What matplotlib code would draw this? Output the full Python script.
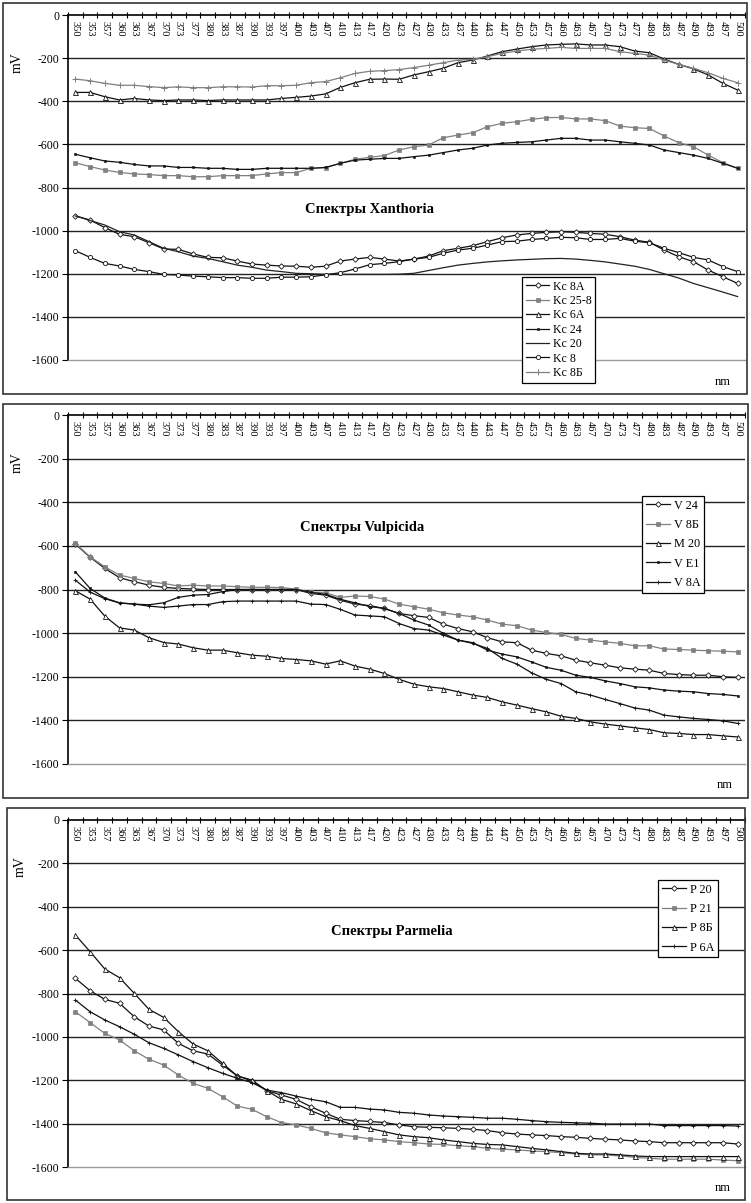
"""Three stacked panels: lichen reflectance spectra (Xanthoria, Vulpicida, Parmelia)."""

import matplotlib
matplotlib.use("Agg")
import matplotlib.pyplot as plt
from matplotlib.patches import Rectangle
import numpy as np

plt.rcParams["font.family"] = ["Liberation Serif", "DejaVu Serif"]

W, H = 751, 1203

WAVELENGTHS = ["350", "353", "357", "360", "363", "367", "370", "373", "377", "380",
               "383", "387", "390", "393", "397", "400", "403", "407", "410", "413",
               "417", "420", "423", "427", "430", "433", "437", "440", "443", "447",
               "450", "453", "457", "460", "463", "467", "470", "473", "477", "480",
               "483", "487", "490", "493", "497", "500"]

# --- Xanthoria ---
kc_8a = [-931, -951, -986, -1017, -1028, -1056, -1085, -1087, -1108, -1124,
         -1126, -1141, -1155, -1160, -1164, -1165, -1170, -1165, -1141, -1132,
         -1124, -1132, -1141, -1132, -1118, -1093, -1082, -1070, -1051, -1033,
         -1020, -1013, -1008, -1005, -1008, -1013, -1017, -1028, -1044, -1054,
         -1090, -1121, -1144, -1183, -1214, -1245]
kc_25_8 = [-685, -703, -719, -730, -737, -740, -745, -745, -750, -750,
           -745, -745, -745, -737, -731, -731, -711, -708, -688, -669,
           -660, -652, -626, -611, -603, -569, -557, -546, -518, -502,
           -495, -484, -476, -475, -482, -482, -490, -515, -523, -526,
           -561, -592, -611, -650, -685, -711]
kc_6a = [-359, -359, -379, -394, -387, -394, -397, -394, -394, -397,
         -394, -394, -394, -394, -387, -382, -376, -366, -336, -314,
         -298, -297, -298, -278, -263, -247, -221, -209, -190, -170,
         -158, -147, -139, -136, -134, -139, -139, -147, -167, -175,
         -204, -229, -250, -278, -317, -348]
kc_24 = [-646, -662, -677, -683, -693, -700, -700, -707, -707, -711,
         -711, -716, -716, -711, -711, -711, -711, -707, -688, -673,
         -669, -665, -665, -657, -650, -638, -626, -618, -603, -595,
         -591, -588, -580, -572, -572, -580, -580, -588, -595, -603,
         -626, -638, -650, -665, -688, -711]
kc_20 = [-932, -953, -974, -1005, -1020, -1051, -1082, -1098, -1118, -1129,
         -1144, -1160, -1170, -1183, -1190, -1198, -1200, -1203, -1203, -1203,
         -1203, -1203, -1202, -1198, -1185, -1172, -1160, -1152, -1145, -1140,
         -1136, -1133, -1130, -1129, -1132, -1138, -1145, -1155, -1165, -1180,
         -1200, -1220, -1245, -1265, -1285, -1306]
kc_8 = [-1093, -1124, -1152, -1164, -1180, -1190, -1203, -1206, -1211, -1214,
        -1218, -1218, -1221, -1221, -1216, -1216, -1214, -1205, -1195, -1178,
        -1158, -1152, -1144, -1132, -1124, -1105, -1090, -1082, -1067, -1051,
        -1049, -1041, -1036, -1031, -1033, -1041, -1041, -1036, -1049, -1056,
        -1082, -1102, -1124, -1136, -1167, -1190]
kc_8b = [-297, -305, -317, -326, -326, -332, -337, -333, -337, -337,
         -333, -333, -334, -328, -328, -326, -314, -309, -291, -271,
         -261, -258, -253, -244, -233, -221, -209, -206, -193, -178,
         -167, -159, -155, -150, -155, -155, -155, -170, -178, -186,
         -209, -229, -247, -268, -294, -314]

# --- Vulpicida ---
v_24 = [-592, -652, -703, -746, -764, -780, -790, -795, -798, -800,
        -800, -800, -800, -800, -800, -800, -818, -826, -849, -867,
        -874, -887, -910, -920, -928, -959, -979, -994, -1021, -1040,
        -1044, -1078, -1093, -1104, -1124, -1136, -1147, -1159, -1165, -1170,
        -1185, -1190, -1193, -1193, -1200, -1203]
v_8b = [-589, -650, -696, -734, -749, -765, -772, -784, -780, -784,
        -784, -787, -790, -790, -791, -798, -813, -815, -836, -830,
        -832, -844, -867, -879, -890, -907, -917, -925, -940, -959,
        -966, -986, -997, -1006, -1024, -1032, -1040, -1047, -1058, -1058,
        -1073, -1075, -1078, -1081, -1083, -1086]
m_20 = [-806, -844, -922, -976, -986, -1021, -1043, -1050, -1067, -1078,
        -1078, -1090, -1101, -1106, -1116, -1121, -1127, -1142, -1127, -1151,
        -1165, -1185, -1212, -1234, -1246, -1254, -1269, -1284, -1295, -1315,
        -1330, -1346, -1361, -1381, -1391, -1407, -1417, -1425, -1434, -1442,
        -1457, -1460, -1465, -1465, -1471, -1476]
v_e1 = [-719, -795, -839, -861, -867, -870, -861, -836, -826, -823,
        -810, -800, -800, -800, -800, -800, -813, -822, -845, -861,
        -878, -887, -910, -940, -963, -1001, -1032, -1044, -1078, -1096,
        -1109, -1132, -1157, -1170, -1193, -1203, -1219, -1231, -1246, -1251,
        -1261, -1266, -1269, -1277, -1281, -1288]
v_8a = [-757, -812, -842, -862, -867, -876, -882, -876, -869, -869,
        -856, -853, -853, -853, -853, -853, -867, -869, -891, -917,
        -921, -925, -956, -979, -986, -1009, -1032, -1047, -1070, -1116,
        -1142, -1182, -1212, -1231, -1269, -1284, -1304, -1323, -1343, -1353,
        -1376, -1384, -1391, -1396, -1402, -1414]

# --- Parmelia ---
p_20 = [-730, -787, -827, -845, -907, -950, -968, -1030, -1064, -1079,
        -1130, -1180, -1203, -1248, -1268, -1288, -1322, -1352, -1380, -1386,
        -1390, -1395, -1406, -1414, -1417, -1419, -1422, -1426, -1432, -1442,
        -1448, -1452, -1455, -1460, -1463, -1468, -1472, -1475, -1480, -1483,
        -1488, -1488, -1488, -1488, -1488, -1494]
p_21 = [-884, -934, -984, -1014, -1064, -1103, -1130, -1176, -1214, -1237,
        -1276, -1319, -1334, -1368, -1395, -1406, -1422, -1442, -1452, -1460,
        -1470, -1475, -1483, -1488, -1494, -1496, -1502, -1506, -1514, -1518,
        -1521, -1526, -1529, -1534, -1540, -1544, -1544, -1549, -1555, -1560,
        -1564, -1564, -1564, -1564, -1568, -1571]
p_8b = [-530, -607, -687, -727, -799, -873, -910, -976, -1033, -1064,
        -1122, -1180, -1199, -1248, -1288, -1309, -1340, -1368, -1386, -1409,
        -1422, -1437, -1452, -1460, -1465, -1475, -1483, -1491, -1496, -1498,
        -1506, -1514, -1521, -1529, -1537, -1540, -1540, -1544, -1549, -1552,
        -1552, -1552, -1552, -1552, -1552, -1552]
p_6a = [-830, -884, -922, -953, -988, -1027, -1053, -1083, -1114, -1142,
        -1168, -1191, -1211, -1245, -1257, -1273, -1288, -1299, -1325, -1325,
        -1333, -1337, -1348, -1352, -1360, -1365, -1368, -1371, -1375, -1375,
        -1380, -1386, -1391, -1394, -1396, -1398, -1402, -1402, -1402, -1402,
        -1409, -1409, -1409, -1409, -1409, -1411]

BLACK = "#111111"
GRAY = "#808080"

# style per series: color, marker, marker size, marker face
STYLES = {
    "diamond": dict(color=BLACK, marker="D", ms=2.8, mfc="white", mec=BLACK, mew=0.6),
    "gray_sq": dict(color=GRAY, marker="s", ms=2.8, mfc=GRAY, mec=GRAY, mew=0.5),
    "tri": dict(color=BLACK, marker="^", ms=3.6, mfc="white", mec=BLACK, mew=0.6),
    "black_sq": dict(color=BLACK, marker="s", ms=1.6, mfc=BLACK, mec=BLACK, mew=0.4),
    "plain": dict(color="#222222", marker=None),
    "circle": dict(color=BLACK, marker="o", ms=3.0, mfc="white", mec=BLACK, mew=0.6),
    "gray_plus": dict(color=GRAY, marker="+", ms=4.0, mec=GRAY, mew=0.7),
    "plus": dict(color=BLACK, marker="+", ms=3.2, mec=BLACK, mew=0.6),
}

PANELS = [
    dict(title="Спектры Xanthoria", top=15, bottom=360, frame=(3, 3, 747, 394),
         title_xy=(370, 210), nm_xy=(723, 382), mv_xy=(17, 63),
         legend_xy=(522, 277), legend_fs=8.6, legend_sp=0.2,
         series=[("Kc 8A", kc_8a, "diamond"), ("Kc 25-8", kc_25_8, "gray_sq"),
                 ("Kc 6A", kc_6a, "tri"), ("Kc 24", kc_24, "black_sq"),
                 ("Kc 20", kc_20, "plain"), ("Kc 8", kc_8, "circle"),
                 ("Kc 8Б", kc_8b, "gray_plus")]),
    dict(title="Спектры Vulpicida", top=415, bottom=764, frame=(3, 404, 748, 798),
         title_xy=(362, 527), nm_xy=(725, 785), mv_xy=(17, 463),
         legend_xy=(642, 496), legend_fs=8.8, legend_sp=0.6,
         series=[("V 24", v_24, "diamond"), ("V 8Б", v_8b, "gray_sq"),
                 ("M 20", m_20, "tri"), ("V E1", v_e1, "black_sq"),
                 ("V 8A", v_8a, "plus")]),
    dict(title="Спектры Parmelia", top=820, bottom=1167, frame=(7, 808, 745, 1200),
         title_xy=(392, 932), nm_xy=(723, 1188), mv_xy=(20, 867),
         legend_xy=(658, 880), legend_fs=8.8, legend_sp=0.6,
         series=[("P 20", p_20, "diamond"), ("P 21", p_21, "gray_sq"),
                 ("P 8Б", p_8b, "tri"), ("P 6A", p_6a, "plus")]),
]

LEFT, RIGHT = 68, 745


def fx(px):
    return px / W


def fy(py):
    return 1 - py / H


fig = plt.figure(figsize=(W / 100, H / 100), dpi=100)
x = np.arange(len(WAVELENGTHS))

for p in PANELS:
    x0, y0, x1, y1 = p["frame"]
    fig.patches.append(Rectangle((fx(x0), fy(y1)), fx(x1 - x0), (y1 - y0) / H,
                                 transform=fig.transFigure, fill=False,
                                 edgecolor="#333333", lw=1.2))
    ax = fig.add_axes([fx(LEFT), fy(p["bottom"]), fx(RIGHT - LEFT),
                       (p["bottom"] - p["top"]) / H])
    ax.set_xlim(-0.5, len(WAVELENGTHS) - 0.5)
    ax.set_ylim(-1600, 0)

    for y in range(-1400, 0, 200):
        ax.axhline(y, color="#222222", lw=1.0, zorder=1)

    for name, vals, style in p["series"]:
        st = dict(STYLES[style])
        ax.plot(x, vals, lw=0.9, label=name, zorder=3, **st)

    # axes look
    ax.spines["right"].set_visible(False)
    ax.spines["top"].set_color("black")
    ax.spines["top"].set_linewidth(1.2)
    ax.spines["left"].set_color("black")
    ax.spines["left"].set_linewidth(1.2)
    ax.spines["bottom"].set_color("#9a9a9a")
    ax.spines["bottom"].set_linewidth(1.0)

    ax.set_yticks(range(-1600, 1, 200))
    ax.set_yticklabels([str(v) for v in range(-1600, 1, 200)], fontsize=8.5)
    ax.tick_params(axis="y", direction="out", length=4, width=0.8, pad=2)

    ax.xaxis.set_ticks_position("top")
    ax.set_xticks([])
    ax.set_xticks(np.arange(-0.5, len(WAVELENGTHS), 1), minor=True)
    ax.tick_params(axis="x", which="minor", direction="inout", length=4,
                   width=0.8, top=True, bottom=False, labeltop=False)
    for i, lab in enumerate(WAVELENGTHS):
        ax.annotate(lab, (i, 1), xycoords=("data", "axes fraction"),
                    xytext=(0, -4), textcoords="offset points",
                    rotation=-90, ha="center", va="top", fontsize=7.5)

    tx, ty = p["title_xy"]
    ax.text((tx - LEFT) / (RIGHT - LEFT), 1 - (ty - p["top"]) / (p["bottom"] - p["top"]),
            p["title"], transform=ax.transAxes, ha="center", va="center",
            fontsize=10.5, fontweight="bold")

    lx, ly = p["legend_xy"]
    leg = ax.legend(loc="upper left",
                    bbox_to_anchor=((lx - LEFT) / (RIGHT - LEFT),
                                    1 - (ly - p["top"]) / (p["bottom"] - p["top"])),
                    fontsize=p["legend_fs"], frameon=True, fancybox=False,
                    edgecolor="black", framealpha=1, borderpad=0.3,
                    labelspacing=p["legend_sp"], handlelength=2.0,
                    handletextpad=0.3, borderaxespad=0)
    leg.get_frame().set_linewidth(0.9)
    leg.set_zorder(5)

    nx, ny = p["nm_xy"]
    fig.text(fx(nx), fy(ny), "nm", ha="center", va="center", fontsize=9)
    mx, my = p["mv_xy"]
    fig.text(fx(mx), fy(my), "mV", ha="center", va="center", fontsize=10,
             rotation=90)

fig.savefig("out.png", dpi=100)
